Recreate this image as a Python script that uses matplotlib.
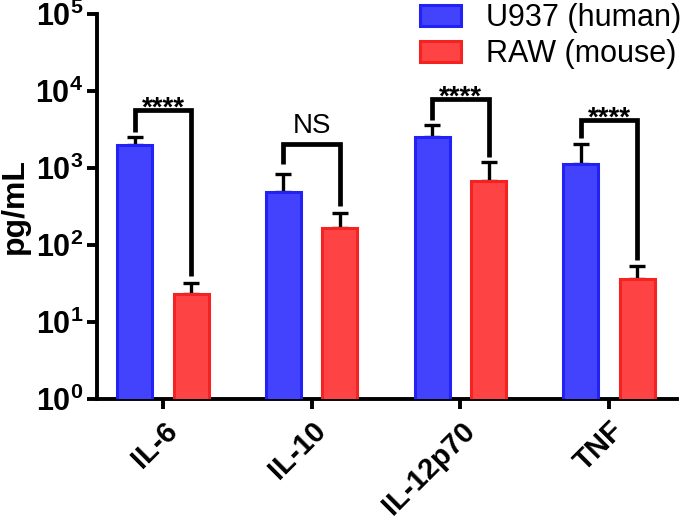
import numpy as np
import matplotlib
matplotlib.use('Agg')
import matplotlib.pyplot as plt
import matplotlib.transforms as mtransforms

plt.rcParams['font.family'] = ['Liberation Sans', 'DejaVu Sans']
plt.rcParams['mathtext.fontset'] = 'custom'
plt.rcParams['mathtext.rm'] = 'Liberation Sans:bold'
plt.rcParams['mathtext.bf'] = 'Liberation Sans:bold'

# ──── Data ─────────────────────────────────────────────────────
cytokines = ['IL-6', 'IL-10', 'IL-12p70', 'TNF']
human_mean = [2000, 490, 2550, 1130]
human_upper = [2500, 830, 3600, 2050]
mouse_mean = [23, 167, 680, 36]
mouse_upper = [32, 263, 1200, 54]
series_names = ['U937 (human)', 'RAW (mouse)']

# significance brackets: top, left-leg end, right-leg end
sig_labels = ['****', 'NS', '****', '****']
br_top = [5660, 2050, 7870, 4200]
br_left = [2935, 1127, 4200, 2450]
br_right = [39.6, 321, 1390, 64]

yticks = [1, 10, 100, 1000, 10000, 100000]
ytick_labels = [r'$10^{0}$', r'$10^{1}$', r'$10^{2}$', r'$10^{3}$', r'$10^{4}$', r'$10^{5}$']

# ──── Style ────────────────────────────────────────────────────
BLUE_FILL, BLUE_EDGE = '#4343fd', '#2222f5'
RED_FILL, RED_EDGE = '#fd4343', '#f52222'
OFF = 0.19
WIDTH = 0.235

fig = plt.figure(figsize=(6.87, 5.19), dpi=100)
ax = fig.add_axes([97/687, 1 - 399/519, (677 - 97)/687, (399 - 14)/519])

x = np.arange(len(cytokines))
hm, hu = np.array(human_mean), np.array(human_upper)
mm, mu = np.array(mouse_mean), np.array(mouse_upper)

ax.bar(x - OFF, hm, WIDTH, color=BLUE_FILL, edgecolor=BLUE_EDGE, lw=2.2,
       label=series_names[0], zorder=3)
ax.bar(x + OFF, mm, WIDTH, color=RED_FILL, edgecolor=RED_EDGE, lw=2.2,
       label=series_names[1], zorder=3)

ekw = dict(fmt='none', ecolor='black', elinewidth=2.4, capsize=6, capthick=2.4, zorder=2)
ax.errorbar(x - OFF, hm, yerr=[np.zeros_like(hm), hu - hm], **ekw)
ax.errorbar(x + OFF, mm, yerr=[np.zeros_like(mm), mu - mm], **ekw)

for i, lab in enumerate(sig_labels):
    xl, xr = x[i] - OFF, x[i] + OFF
    ax.plot([xl, xl, xr, xr], [br_left[i], br_top[i], br_top[i], br_right[i]],
            color='black', lw=3.4, solid_joinstyle='miter', solid_capstyle='butt',
            zorder=4, clip_on=False)
    if lab == 'NS':
        ax.annotate(lab, (x[i], br_top[i]), xytext=(0, 13), textcoords='offset points',
                    ha='center', va='center', fontsize=20)
    else:
        ax.annotate(lab, (x[i], br_top[i]), xytext=(0, 1), textcoords='offset points',
                    ha='center', va='center', fontsize=20, fontweight='bold')

ax.set_yscale('log')
ax.set_ylim(1, 1e5)
ax.set_xlim(-0.444, 3.457)
ax.set_yticks(yticks, labels=ytick_labels, fontsize=22)
ax.minorticks_off()
ax.set_xticks(x)
ax.set_xticklabels(cytokines, rotation=45, ha='right', rotation_mode='anchor',
                   fontsize=21, fontweight='bold')
shift = mtransforms.ScaledTranslation(6/72, 0, fig.dpi_scale_trans)
for lbl in ax.get_xticklabels():
    lbl.set_transform(lbl.get_transform() + shift)
ax.set_ylabel('pg/mL', fontsize=23, fontweight='bold', labelpad=4)

for s in ['top', 'right']:
    ax.spines[s].set_visible(False)
for s in ['left', 'bottom']:
    ax.spines[s].set_linewidth(2.8)
ax.tick_params(axis='both', width=2.8, length=7.5, pad=2.5)
ax.tick_params(axis='x', pad=5)

ax.legend(loc='upper left', bbox_to_anchor=(417/687, 1.0), bbox_transform=fig.transFigure,
          frameon=False, fontsize=22, handlelength=1.35, handleheight=0.65,
          handletextpad=0.8, labelspacing=0.2, borderaxespad=0, borderpad=0.1)

fig.savefig('out.png', dpi=100)
